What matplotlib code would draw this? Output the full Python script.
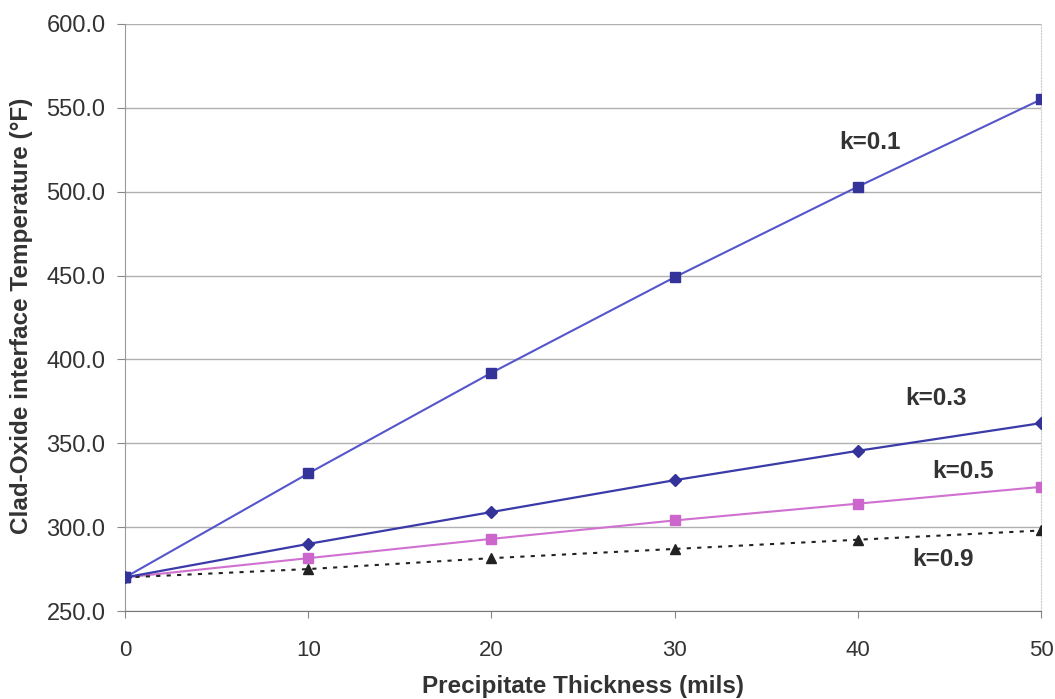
import matplotlib
matplotlib.use("Agg")
import matplotlib.pyplot as plt
from matplotlib import font_manager

# data
thickness = [0, 10, 20, 30, 40, 50]
temp_k01 = [270, 332, 392, 449, 503, 555]
temp_k03 = [270, 290, 309, 328, 345.5, 362]
temp_k05 = [270, 281.5, 293, 304, 314, 324]
temp_k09 = [270, 275, 281.5, 287, 292.5, 298]

y_ticks = [250, 300, 350, 400, 450, 500, 550, 600]
x_ticks = [0, 10, 20, 30, 40, 50]

plt.rcParams['font.family'] = ['Liberation Sans', 'DejaVu Sans']

# axis titles look like a narrow bold face; use it if it is there
try:
    font_manager.findfont(font_manager.FontProperties(family='Liberation Sans Narrow', weight='bold'),
                          fallback_to_default=False)
    title_font = dict(family=['Liberation Sans Narrow', 'DejaVu Sans'], fontsize=21)
except Exception:
    title_font = dict(family=['Liberation Sans', 'DejaVu Sans'], fontsize=17.5)

W, H = 1055, 699
fig = plt.figure(figsize=(W / 100, H / 100), dpi=100)
ax = fig.add_axes([125 / W, 1 - 611 / H, 916 / W, 587 / H])

ax.plot(thickness, temp_k01, color='#5555cc', lw=1.5, marker='s', ms=6.5,
        mfc='#333399', mec='#333399', zorder=4)
ax.plot(thickness, temp_k03, color='#3a3aa8', lw=1.6, marker='D', ms=6,
        mfc='#333399', mec='#333399', zorder=4)
ax.plot(thickness, temp_k05, color='#d070d0', lw=1.5, marker='s', ms=6.5,
        mfc='#cc66cc', mec='#cc66cc', zorder=3)
ax.plot(thickness, temp_k09, color='#222222', lw=1.5, ls=(0, (2, 3)), marker='^', ms=7,
        mfc='#222222', mec='#222222', zorder=3)

# curve labels
lab = dict(fontsize=17.5, fontweight='bold', color='#333333', va='baseline')
ax.text(39.0, 525.5, 'k=0.1', **lab)
ax.text(42.6, 373, 'k=0.3', **lab)
ax.text(44.05, 329.5, 'k=0.5', **lab)
ax.text(42.95, 277, 'k=0.9', **lab)

ax.set_xlim(0, 50)
ax.set_ylim(250, 600)
ax.set_xticks(x_ticks)
ax.set_yticks(y_ticks)
ax.set_yticklabels([f'{v:.1f}' for v in y_ticks])
ax.tick_params(axis='both', labelsize=16, colors='#888888', labelcolor='#333333',
               length=6, direction='out')
ax.tick_params(axis='y', pad=8, labelsize=17)
ax.tick_params(axis='x', length=5, pad=16)

ax.grid(axis='y', color='#b0b0b0', lw=1)
ax.set_axisbelow(True)
ax.spines['top'].set_visible(False)
ax.spines['right'].set_color('#cccccc')
ax.spines['right'].set_linestyle(':')
ax.spines['left'].set_color('#999999')
ax.spines['bottom'].set_color('#777777')

fig.text(583.5 / W, 1 - 693 / H, 'Precipitate Thickness (mils)', fontweight='bold',
         color='#333333', ha='center', va='baseline', **title_font)
fig.text(22 / W, 1 - 316 / H, 'Clad-Oxide interface Temperature (°F)', fontweight='bold',
         color='#333333', ha='center', va='center', rotation=90, **title_font)

fig.savefig('out.png', dpi=100)
